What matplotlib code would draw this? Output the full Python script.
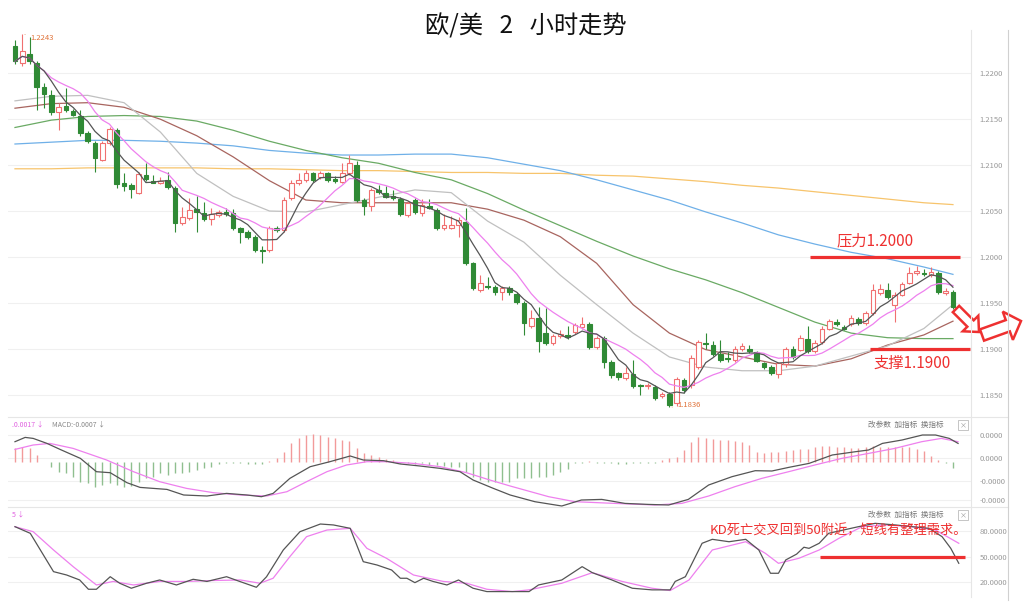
import numpy as np
import pandas as pd
import matplotlib
matplotlib.use("Agg")
import matplotlib.pyplot as plt
from matplotlib.patches import FancyArrow

plt.rcParams['font.family'] = ['Noto Sans CJK SC', 'DejaVu Sans']

title = '欧/美   2   小时走势'

# 2h candles
opens = [1.2230, 1.2211, 1.2221, 1.2211, 1.2185, 1.2176, 1.2158, 1.2164, 1.2159, 1.2153,
         1.2135, 1.2124, 1.2106, 1.2124, 1.2138, 1.2080, 1.2078, 1.2070, 1.2089, 1.2083,
         1.2081, 1.2084, 1.2075, 1.2037, 1.2042, 1.2052, 1.2048, 1.2041, 1.2046, 1.2049,
         1.2048, 1.2031, 1.2027, 1.2022, 1.2008, 1.2007, 1.2031, 1.2029, 1.2064, 1.2080,
         1.2084, 1.2091, 1.2087, 1.2091, 1.2085, 1.2082, 1.2091, 1.2100, 1.2062, 1.2055,
         1.2073, 1.2070, 1.2066, 1.2063, 1.2046, 1.2062, 1.2048, 1.2055, 1.2051, 1.2031,
         1.2032, 1.2035, 1.2038, 1.1993, 1.1964, 1.1968, 1.1967, 1.1962, 1.1966, 1.1960,
         1.1950, 1.1925, 1.1933, 1.1917, 1.1906, 1.1914, 1.1915, 1.1918, 1.1924, 1.1927,
         1.1902, 1.1912, 1.1886, 1.1873, 1.1868, 1.1872, 1.1860, 1.1859, 1.1858, 1.1848,
         1.1851, 1.1841, 1.1866, 1.1860, 1.1880, 1.1906, 1.1904, 1.1894, 1.1890, 1.1888,
         1.1900, 1.1900, 1.1896, 1.1884, 1.1880, 1.1872, 1.1883, 1.1900, 1.1899, 1.1911,
         1.1897, 1.1907, 1.1922, 1.1929, 1.1924, 1.1927, 1.1932, 1.1928, 1.1939, 1.1961,
         1.1964, 1.1948, 1.1959, 1.1972, 1.1983, 1.1983, 1.1980, 1.1983, 1.1961, 1.1962]
highs = [1.2236, 1.2243, 1.2240, 1.2213, 1.2189, 1.2182, 1.2168, 1.2184, 1.2161, 1.2160,
         1.2137, 1.2126, 1.2126, 1.2141, 1.2140, 1.2091, 1.2080, 1.2092, 1.2102, 1.2089,
         1.2087, 1.2093, 1.2077, 1.2054, 1.2064, 1.2066, 1.2060, 1.2053, 1.2051, 1.2053,
         1.2052, 1.2033, 1.2029, 1.2024, 1.2012, 1.2034, 1.2034, 1.2065, 1.2084, 1.2091,
         1.2095, 1.2093, 1.2094, 1.2093, 1.2088, 1.2102, 1.2111, 1.2105, 1.2064, 1.2075,
         1.2078, 1.2077, 1.2073, 1.2065, 1.2061, 1.2064, 1.2063, 1.2063, 1.2053, 1.2047,
         1.2045, 1.2043, 1.2053, 1.1995, 1.1980, 1.1978, 1.1969, 1.1968, 1.1968, 1.1962,
         1.1952, 1.1942, 1.1945, 1.1944, 1.1916, 1.1920, 1.1925, 1.1928, 1.1934, 1.1929,
         1.1914, 1.1914, 1.1888, 1.1875, 1.1880, 1.1888, 1.1862, 1.1863, 1.1860, 1.1853,
         1.1853, 1.1869, 1.1868, 1.1893, 1.1910, 1.1917, 1.1908, 1.1910, 1.1896, 1.1903,
         1.1906, 1.1904, 1.1898, 1.1886, 1.1882, 1.1886, 1.1902, 1.1903, 1.1915, 1.1925,
         1.1909, 1.1925, 1.1932, 1.1932, 1.1926, 1.1937, 1.1935, 1.1941, 1.1971, 1.1971,
         1.1972, 1.1962, 1.1973, 1.1989, 1.1990, 1.1987, 1.1989, 1.1985, 1.1966, 1.1964]
lows = [1.2210, 1.2208, 1.2210, 1.2160, 1.2162, 1.2155, 1.2138, 1.2158, 1.2153, 1.2132,
        1.2124, 1.2093, 1.2104, 1.2122, 1.2075, 1.2072, 1.2064, 1.2068, 1.2083, 1.2080,
        1.2079, 1.2074, 1.2027, 1.2035, 1.2040, 1.2027, 1.2039, 1.2035, 1.2044, 1.2045,
        1.2029, 1.2015, 1.2019, 1.2005, 1.1993, 1.2005, 1.2027, 1.2027, 1.2062, 1.2078,
        1.2082, 1.2082, 1.2085, 1.2082, 1.2081, 1.2080, 1.2089, 1.2060, 1.2046, 1.2050,
        1.2069, 1.2064, 1.2062, 1.2045, 1.2044, 1.2047, 1.2045, 1.2052, 1.2029, 1.2029,
        1.2030, 1.2022, 1.1991, 1.1964, 1.1962, 1.1965, 1.1958, 1.1953, 1.1959, 1.1949,
        1.1915, 1.1923, 1.1896, 1.1904, 1.1904, 1.1912, 1.1911, 1.1916, 1.1922, 1.1900,
        1.1900, 1.1879, 1.1868, 1.1866, 1.1866, 1.1857, 1.1850, 1.1856, 1.1844, 1.1846,
        1.1836, 1.1838, 1.1852, 1.1857, 1.1878, 1.1900, 1.1892, 1.1886, 1.1886, 1.1886,
        1.1897, 1.1895, 1.1885, 1.1878, 1.1871, 1.1868, 1.1880, 1.1889, 1.1897, 1.1895,
        1.1895, 1.1905, 1.1920, 1.1925, 1.1920, 1.1925, 1.1926, 1.1926, 1.1937, 1.1959,
        1.1954, 1.1929, 1.1957, 1.1970, 1.1980, 1.1979, 1.1978, 1.1960, 1.1958, 1.1943]
closes = [1.2213, 1.2224, 1.2213, 1.2185, 1.2178, 1.2158, 1.2163, 1.2160, 1.2155, 1.2135,
          1.2126, 1.2108, 1.2124, 1.2139, 1.2079, 1.2077, 1.2074, 1.2090, 1.2085, 1.2081,
          1.2083, 1.2076, 1.2037, 1.2044, 1.2051, 1.2049, 1.2041, 1.2047, 1.2049, 1.2047,
          1.2031, 1.2027, 1.2022, 1.2007, 1.2006, 1.2031, 1.2029, 1.2062, 1.2081, 1.2084,
          1.2091, 1.2084, 1.2091, 1.2084, 1.2083, 1.2091, 1.2102, 1.2062, 1.2055, 1.2073,
          1.2071, 1.2065, 1.2064, 1.2047, 1.2059, 1.2049, 1.2057, 1.2053, 1.2032, 1.2035,
          1.2035, 1.2040, 1.1993, 1.1966, 1.1972, 1.1967, 1.1962, 1.1966, 1.1962, 1.1951,
          1.1928, 1.1933, 1.1908, 1.1906, 1.1914, 1.1916, 1.1913, 1.1926, 1.1927, 1.1902,
          1.1912, 1.1886, 1.1871, 1.1869, 1.1873, 1.1859, 1.1859, 1.1861, 1.1846, 1.1851,
          1.1839, 1.1867, 1.1855, 1.1890, 1.1907, 1.1905, 1.1894, 1.1888, 1.1889, 1.1900,
          1.1903, 1.1897, 1.1887, 1.1880, 1.1874, 1.1884, 1.1900, 1.1891, 1.1912, 1.1897,
          1.1906, 1.1922, 1.1930, 1.1927, 1.1922, 1.1933, 1.1928, 1.1939, 1.1964, 1.1965,
          1.1956, 1.1959, 1.1971, 1.1982, 1.1985, 1.1981, 1.1984, 1.1962, 1.1963, 1.1945]

# slower moving averages, read every 5 candles
ma_idx = [0, 5, 10, 15, 20, 25, 30, 35, 40, 45, 50, 55, 60, 65, 70, 75, 80, 85, 90,
          95, 100, 105, 110, 115, 120, 125, 129]
ma20 = [1.2170, 1.2175, 1.2176, 1.2168, 1.2136, 1.2091, 1.2066, 1.2050, 1.2049, 1.2057,
        1.2065, 1.2073, 1.2070, 1.2039, 1.2016, 1.1980, 1.1948, 1.1917, 1.1891, 1.1880,
        1.1876, 1.1876, 1.1881, 1.1892, 1.1903, 1.1922, 1.1948]
ma30 = [1.2162, 1.2167, 1.2168, 1.2163, 1.2150, 1.2132, 1.2109, 1.2083, 1.2062, 1.2059,
        1.2059, 1.2059, 1.2059, 1.2052, 1.2040, 1.2022, 1.1993, 1.1948, 1.1917, 1.1899,
        1.1891, 1.1883, 1.1881, 1.1889, 1.1904, 1.1915, 1.1930]
ma60 = [1.2141, 1.2149, 1.2153, 1.2154, 1.2153, 1.2148, 1.2138, 1.2126, 1.2116, 1.2108,
        1.2102, 1.2092, 1.2084, 1.2069, 1.2051, 1.2034, 1.2017, 1.2001, 1.1987, 1.1975,
        1.1961, 1.1945, 1.1929, 1.1917, 1.1912, 1.1911, 1.1911]
ma120 = [1.2123, 1.2125, 1.2127, 1.2127, 1.2126, 1.2124, 1.2121, 1.2116, 1.2113, 1.2111,
         1.2111, 1.2112, 1.2112, 1.2108, 1.2101, 1.2094, 1.2084, 1.2073, 1.2062, 1.2049,
         1.2037, 1.2024, 1.2014, 1.2005, 1.1998, 1.1989, 1.1981]
ma250 = [1.2096, 1.2096, 1.2097, 1.2097, 1.2097, 1.2097, 1.2096, 1.2096, 1.2095, 1.2094,
         1.2094, 1.2093, 1.2092, 1.2092, 1.2091, 1.2091, 1.2089, 1.2088, 1.2085, 1.2082,
         1.2078, 1.2075, 1.2071, 1.2067, 1.2063, 1.2059, 1.2057]
price_ticks = [1.2200, 1.2150, 1.2100, 1.2050, 1.2000, 1.1950, 1.1900, 1.1850]

# MACD panel
hist = [0.00133, 0.0015, 0.00133, 0.00067, -0.00005,
        -0.0005, -0.001, -0.00117, -0.0015, -0.002, -0.0021, -0.0025, -0.00233, -0.00217, -0.00233,
        -0.00257, -0.00243, -0.002, -0.00167, -0.0015, -0.00117, -0.00133, -0.00117, -0.00117, -0.001,
        -0.00083, -0.00067, -0.0005, -0.00023, -0.0001, -0.00017, -0.00017, -0.00023, -0.00023, -0.00027,
        0.00003, 0.00033, 0.001, 0.00183, 0.00233, 0.00267, 0.00277, 0.00267, 0.0025, 0.00233,
        0.00217, 0.0021, 0.00133, 0.00083, 0.00067, 0.0005, 0.00023, 0.00017,
        -0.0001, -0.00017, -0.00023, -0.00017, -0.00033, -0.00033, -0.00043, -0.0005, -0.00057, -0.001,
        -0.0015, -0.00183, -0.002, -0.002, -0.002, -0.002, -0.00167, -0.00167, -0.00167, -0.0015,
        -0.0015, -0.00133, -0.001, -0.00077,
        -0.00017, -0.0001, 0.0001, -0.0001, -0.00017, -0.00017, -0.00023, -0.00023, -0.00017, -0.00017,
        -0.00017, -0.0001, 0.00017, 0.00033, 0.0005, 0.00117, 0.002, 0.00243, 0.00233, 0.00223,
        0.00217, 0.00217, 0.0021, 0.002, 0.00167, 0.001, 0.0009, 0.001, 0.001, 0.0011,
        0.00117, 0.00123, 0.00123, 0.00143, 0.00157, 0.00157, 0.0015, 0.00143, 0.00133, 0.00133,
        0.0015, 0.00157, 0.0015, 0.0015, 0.0015, 0.0015, 0.00143, 0.00123, 0.0011, 0.00057,
        0.00017, -0.00017, -0.00067]
dif_pos = [0, 1.4, 2.5, 4.4, 6.2, 9.0, 11.2, 13.1, 15.4, 17.2, 20.9, 23.2, 26.4, 29.1, 31.9,
           33.9, 35.5, 37.8, 40.6, 43.3, 46.1, 47.9, 50.7, 53.0, 55.7, 58.5, 61.2, 63.0, 65.8,
           68.1, 71.5, 75.2, 77.9, 80.7, 83.9, 87.1, 89.9, 92.6, 95.4, 98.6, 101.8, 104.1,
           106.4, 109.2, 112.4, 115.6, 117.4, 119.3, 122.0, 124.8, 126.6, 128.5, 129.7]
dif_val = [0.0020, 0.00243, 0.00233, 0.00183, 0.00123, 0.00033, -0.0010, -0.0011, -0.0021,
           -0.00257, -0.00277, -0.00333, -0.00343, -0.00317, -0.00333, -0.0035, -0.00317,
           -0.00167, -0.0005, 0.0, 0.00057, 0.00017, 0.0001, -0.00023, -0.00043, -0.00067,
           -0.0010, -0.00183, -0.00267, -0.00333, -0.0040, -0.00443, -0.00383, -0.00377,
           -0.00417, -0.00427, -0.00433, -0.00377, -0.00233, -0.0015, -0.0009, -0.00093,
           -0.00057, -0.00017, 0.00067, 0.0010, 0.00117, 0.00183, 0.00217, 0.00267, 0.00267,
           0.00233, 0.00183]
dea_pos = [0, 2.5, 4.8, 8.0, 12.6, 16.3, 19.9, 23.6, 27.3, 31.0, 34.6, 37.4, 40.1, 42.9, 45.6,
           48.4, 51.1, 54.8, 58.5, 62.1, 65.3, 68.1, 73.4, 77.0, 82.5, 88.0, 91.7, 95.4, 99.0,
           102.7, 106.4, 110.0, 113.7, 117.4, 121.0, 124.7, 127.4, 129.7]
dea_val = [0.00123, 0.00167, 0.00183, 0.00133, 0.00017, -0.0010, -0.0020, -0.00267, -0.0031,
           -0.00333, -0.00343, -0.0030, -0.0020, -0.0010, -0.00033, 0.0, 0.0, -0.00017, -0.0005,
           -0.0011, -0.00183, -0.00243, -0.0035, -0.0040, -0.00417, -0.00433, -0.00417, -0.00343,
           -0.0025, -0.00167, -0.0010, -0.00033, 0.00033, 0.00083, 0.00133, 0.0020, 0.00233, 0.0020]
macd_ticks = [0.00267, 0.00037, -0.0019, -0.0038]
macd_labels = ['0.0000', '0.0000', '-0.0000', '-0.0000']

# KD panel
k_pos = [0, 2.1, 5.3, 7.1, 8.9, 10.1, 11.2, 13.1, 14.4, 16.0, 18.1, 19.9, 22.2, 24.5, 26.4,
         29.1, 30.9, 33.2, 34.6, 36.9, 39.2, 42.0, 43.8, 46.1, 47.9, 49.8, 51.8, 53.0, 53.9,
         55.0, 56.2, 57.5, 59.4, 61.0, 63.0, 64.9, 66.7, 68.4, 70.7, 72.0, 75.2, 78.0, 79.4,
         82.1, 84.9, 87.6, 90.1, 90.8, 92.2, 94.5, 95.9, 98.2, 100.5, 102.3, 103.9, 105.0,
         106.0, 107.5, 108.5, 109.2, 110.6, 111.9, 116.0, 118.3, 121.1, 123.4, 125.7, 127.5,
         128.7, 129.8]
k_val = [84.9, 77.2, 32.6, 28.7, 22.9, 12.1, 12.1, 26.7, 19.1, 13.3, 19.1, 22.9, 17.1, 23.7,
         21.2, 26.7, 21.2, 14.4, 26.7, 57.8, 79.1, 88.0, 86.9, 83.0, 44.2, 40.3, 34.5, 24.9,
         24.9, 19.8, 24.9, 21.2, 17.1, 22.9, 13.3, 9.4, 9.4, 9.4, 9.4, 17.1, 22.9, 38.4, 31.4,
         22.9, 13.3, 11.4, 11.4, 21.2, 26.7, 65.6, 70.2, 67.4, 70.2, 57.8, 30.7, 30.7, 46.2,
         53.0, 61.0, 59.7, 65.6, 77.2, 84.9, 88.8, 86.9, 84.9, 83.0, 73.3, 59.7, 42.3]
d_pos = [0, 2.5, 5.3, 8.0, 11.2, 13.5, 16.3, 19.9, 23.6, 27.3, 31.0, 33.7, 35.5, 37.8, 40.1,
         42.9, 46.1, 48.4, 51.1, 54.8, 58.9, 62.1, 64.9, 68.4, 70.7, 75.2, 79.4, 83.5, 87.6,
         90.1, 92.7, 95.9, 100.5, 103.2, 105.0, 107.8, 110.6, 113.3, 116.5, 119.7, 123.4,
         126.6, 129.8]
d_val = [84.9, 79.1, 57.8, 38.4, 17.1, 21.2, 17.1, 21.2, 21.2, 22.3, 22.9, 19.1, 24.9, 50.0,
         73.3, 81.0, 83.0, 59.7, 48.1, 28.7, 21.2, 19.1, 12.1, 9.4, 11.4, 19.1, 31.4, 21.2,
         13.3, 10.6, 22.9, 57.8, 67.4, 53.9, 42.3, 48.1, 57.8, 71.3, 84.9, 86.9, 84.9, 81.0, 65.6]
kd_ticks = [80, 50, 20]
kd_labels = ['80.0000', '50.0000', '20.0000']

RED = '#ee3030'
UP = '#f07070'
DOWN = '#2f8a35'
W, H = 1024, 608
fig = plt.figure(figsize=(W / 100, H / 100), dpi=100)


def box(x0, y0, x1, y1):
    return [x0 / W, 1 - y1 / H, (x1 - x0) / W, (y1 - y0) / H]


ax = fig.add_axes(box(8, 30, 971, 417))
ax_m = fig.add_axes(box(8, 417, 971, 507))
ax_k = fig.add_axes(box(8, 507, 971, 597))
xlim = (-0.96, 131.48)

for a in (ax, ax_m, ax_k):
    a.set_xlim(*xlim)
    for s in a.spines.values():
        s.set_visible(False)
    a.set_xticks([])
    a.yaxis.tick_right()
    a.tick_params(axis='y', length=0, pad=6, labelsize=5.5, labelcolor='#999999')
    a.grid(axis='y', color='#f0f0f0', lw=0.8)
    a.set_axisbelow(True)

# candles
x = np.arange(len(closes))
o = np.array(opens)
c = np.array(closes)
up = c >= o
ax.vlines(x, lows, highs, colors=[UP if u else DOWN for u in up], lw=0.8, zorder=2)
body = np.maximum(np.abs(c - o), 0.00005)
ax.bar(x[up], body[up], bottom=o[up], width=0.64, facecolor='white', edgecolor=UP,
       lw=0.8, zorder=3)
ax.bar(x[~up], body[~up], bottom=c[~up], width=0.64, facecolor=DOWN, edgecolor=DOWN,
       lw=0.8, zorder=3)

ma5 = pd.Series(closes).rolling(5, min_periods=1).mean()
ma10 = pd.Series(closes).rolling(10, min_periods=1).mean()
ax.plot(ma_idx, ma250, color='#f7c46c', lw=0.9, zorder=1)
ax.plot(ma_idx, ma120, color='#6fb0e8', lw=0.9, zorder=1)
ax.plot(ma_idx, ma60, color='#6aaa64', lw=0.9, zorder=1)
ax.plot(ma_idx, ma30, color='#a8655f', lw=0.9, zorder=1)
ax.plot(ma_idx, ma20, color='#c0c0c0', lw=0.9, zorder=1)
ax.plot(x, ma10, color='#ee80ee', lw=0.9, zorder=4)
ax.plot(x, ma5, color='#555555', lw=0.9, zorder=4)

ax.set_ylim(1.18256, 1.22472)
ax.set_yticks(price_ticks)
ax.set_yticklabels([f'{t:.4f}' for t in price_ticks])

ax.annotate('1.2243', xy=(1, 1.2243), xytext=(6, -3), textcoords='offset points',
            fontsize=5.5, color='#e0733a', va='center',
            arrowprops=dict(arrowstyle='-', color='#e0733a', lw=0.6))
ax.annotate('1.1836', xy=(90, 1.1836), xytext=(6, 2), textcoords='offset points',
            fontsize=5.5, color='#e0733a', va='center',
            arrowprops=dict(arrowstyle='-', color='#e0733a', lw=0.6))

ax.plot([109.4, 130.0], [1.2000, 1.2000], color=RED, lw=2.3, solid_capstyle='butt', zorder=5)
ax.plot([117.6, 131.4], [1.1900, 1.1900], color=RED, lw=2.3, solid_capstyle='butt', zorder=5)
ax.text(118.3, 1.2018, '压力1.2000', color=RED, fontsize=11, ha='center', va='center')
ax.text(123.4, 1.1884, '支撑1.1900', color=RED, fontsize=11, ha='center', va='center')

# MACD
xh = np.arange(len(hist))
hv = np.array(hist)
ax_m.vlines(xh, 0, hv, colors=np.where(hv >= 0, '#f29a9a', '#8fbf8f'), lw=1.0)
ax_m.plot(dea_pos, dea_val, color='#ee80ee', lw=0.9)
ax_m.plot(dif_pos, dif_val, color='#555555', lw=0.9)
ax_m.set_ylim(-0.00453, 0.00447)
ax_m.set_yticks(macd_ticks)
ax_m.set_yticklabels(macd_labels)

# KD
ax_k.plot(d_pos, d_val, color='#ee80ee', lw=0.9)
ax_k.plot(k_pos, k_val, color='#555555', lw=0.9)
ax_k.set_ylim(3.1, 107.8)
ax_k.set_yticks(kd_ticks)
ax_k.set_yticklabels(kd_labels)
ax_k.plot([110.7, 130.7], [50, 50], color=RED, lw=2.3, solid_capstyle='butt')
ax_k.text(113.2, 80, 'KD死亡交叉回到50附近，短线有整理需求。', color=RED, fontsize=9.5,
          ha='center', va='center')

# overlay in pixel units for frame lines, headers and arrows
ov = fig.add_axes([0, 0, 1, 1], zorder=10)
ov.set_xlim(0, W)
ov.set_ylim(H, 0)
ov.axis('off')
ov.patch.set_alpha(0)
for yy in (417, 507):
    ov.plot([8, 1008], [yy, yy], color='#e6e6e6', lw=0.8)
ov.plot([971, 971], [30, 597], color='#e6e6e6', lw=0.8)
ov.plot([1008, 1008], [30, 600], color='#d0d0d0', lw=0.8)

fig.text(0.5 + 14 / W, 1 - 27 / H, title, ha='center', va='center', fontsize=17.5,
         color='#111111')

ov.text(12, 425, '.0.0017 ↓', fontsize=5, color='#e060e0', va='center')
ov.text(52, 425, 'MACD:-0.0007 ↓', fontsize=5, color='#888888', va='center')
ov.text(12, 515, '5 ↓', fontsize=5, color='#e060e0', va='center')
for yy in (425, 515):
    ov.text(868, yy, '改参数  加指标  换指标', fontsize=5.5, color='#777777', va='center')
    ov.text(963, yy, '×', fontsize=5, color='#999999', va='center', ha='center',
            bbox=dict(boxstyle='square,pad=0.15', fc='white', ec='#bbbbbb', lw=0.6))

ov.add_patch(FancyArrow(956, 309, 23, 23, width=9, head_width=22, head_length=12,
                        length_includes_head=True, fill=False, ec=RED, lw=1.8))
ov.add_patch(FancyArrow(982, 335, 39, -14, width=12, head_width=30, head_length=14,
                        length_includes_head=True, fill=False, ec=RED, lw=1.8))

fig.savefig('out.png', dpi=100)
